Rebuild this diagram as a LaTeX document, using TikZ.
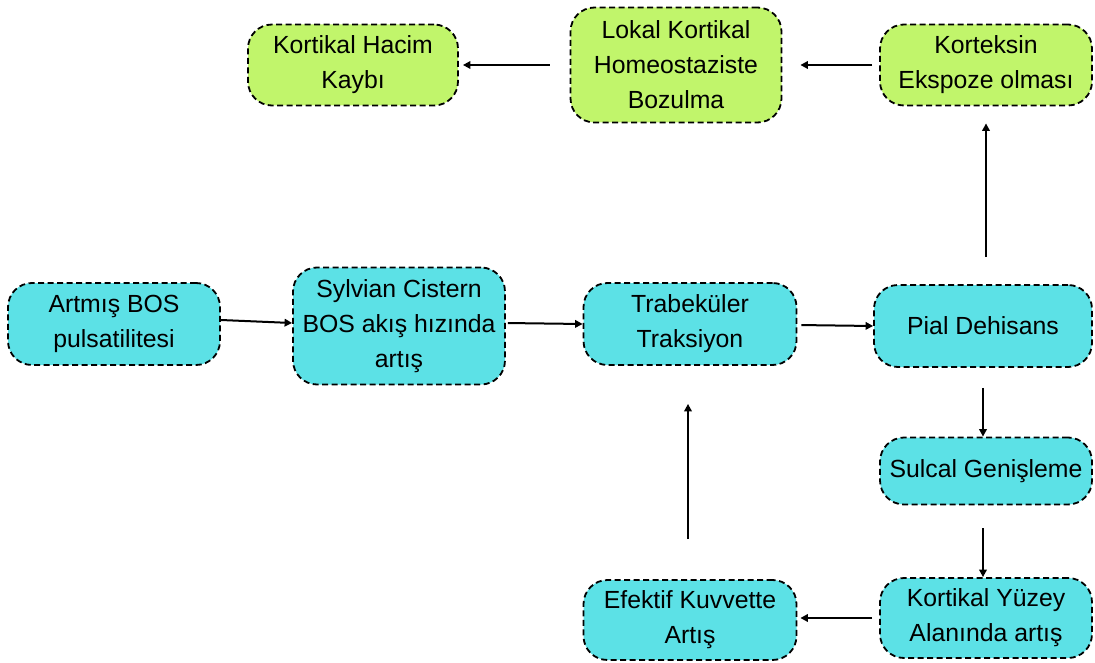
\documentclass[tikz,border=0pt]{standalone}
\usepackage{fontspec}
\setmainfont{Liberation Sans}
\usetikzlibrary{arrows.meta}

\definecolor{limeFill}{HTML}{C1F56B}
\definecolor{cyanFill}{HTML}{5CE1E6}

\begin{document}
\begin{tikzpicture}[x = 1pt, y = -1pt, font = \fontsize{24.8}{35}\selectfont]
	\tikzstyle{boxStyle} = [draw, dash pattern = on 6pt off 3.5pt, line width = 1.8pt, rounded corners = 24pt, align = center, inner sep = 0pt]
	\tikzstyle{limeStyle} = [boxStyle, fill = limeFill]
	\tikzstyle{cyanStyle} = [boxStyle, fill = cyanFill]
	\tikzstyle{arrowStyle} = [line width = 2pt, -{Triangle[length = 7.5pt, width = 7.5pt]}]
	\useasboundingbox (0, 0) rectangle (1095, 663);
	% top row
	\node[limeStyle, minimum width = 210pt, minimum height = 81pt] (hacim) at (353, 65) {Kortikal Hacim\\Kaybı};
	\node[limeStyle, minimum width = 211pt, minimum height = 115pt] (lokal) at (676, 65) {Lokal Kortikal\\Homeostaziste\\Bozulma};
	\node[limeStyle, minimum width = 212pt, minimum height = 81pt] (ekspoze) at (986, 65) {Korteksin\\Ekspoze olması};
	% middle row
	\node[cyanStyle, minimum width = 212pt, minimum height = 82pt] (bos) at (114, 324) {Artmış BOS\\pulsatilitesi};
	\node[cyanStyle, minimum width = 212pt, minimum height = 117pt] (sylvian) at (399, 326) {Sylvian Cistern\\BOS akış hızında\\artış};
	\node[cyanStyle, minimum width = 213pt, minimum height = 82pt] (traksiyon) at (690, 324) {Trabeküler\\Traksiyon};
	\node[cyanStyle, minimum width = 218pt, minimum height = 82pt] (pial) at (983, 326) {Pial Dehisans};
	% right column and bottom row
	\node[cyanStyle, minimum width = 212pt, minimum height = 67pt] (sulcal) at (986, 471) {Sulcal Genişleme};
	\node[cyanStyle, minimum width = 212pt, minimum height = 80pt] (yuzey) at (986, 618) {Kortikal Yüzey\\Alanında artış};
	\node[cyanStyle, minimum width = 213pt, minimum height = 80pt] (kuvvet) at (690, 620) {Efektif Kuvvette\\Artış};
	% arrows
	\draw[arrowStyle, shorten < = 20pt, shorten > = 4pt] (lokal.west |- hacim.east) -- (hacim.east);
	\draw[arrowStyle, shorten < = 7pt, shorten > = 18pt] (ekspoze.west) -- (lokal.east |- ekspoze.west);
	\draw[arrowStyle, shorten < = 27pt, shorten > = 17pt] (pial.north -| ekspoze.south) -- (ekspoze.south);
	\draw[arrowStyle] ([yshift = 4pt]bos.east) -- ([yshift = 3pt]sylvian.west);
	\draw[arrowStyle, shorten < = 2pt] ([yshift = 3pt]sylvian.east) -- (traksiyon.west);
	\draw[arrowStyle, shorten < = 4pt] ([yshift = -1pt]traksiyon.east) -- (pial.west);
	\draw[arrowStyle, shorten < = 20pt] (pial.south) -- (sulcal.north -| pial.south);
	\draw[arrowStyle, shorten < = 23pt] (sulcal.south -| 983, 0) -- (yuzey.north -| 983, 0);
	\draw[arrowStyle, shorten < = 7pt, shorten > = 3pt] (yuzey.west) -- (kuvvet.east |- yuzey.west);
	\draw[arrowStyle, shorten < = 40pt, shorten > = 38pt] (kuvvet.north -| 688, 0) -- (traksiyon.south -| 688, 0);
\end{tikzpicture}
\end{document}
